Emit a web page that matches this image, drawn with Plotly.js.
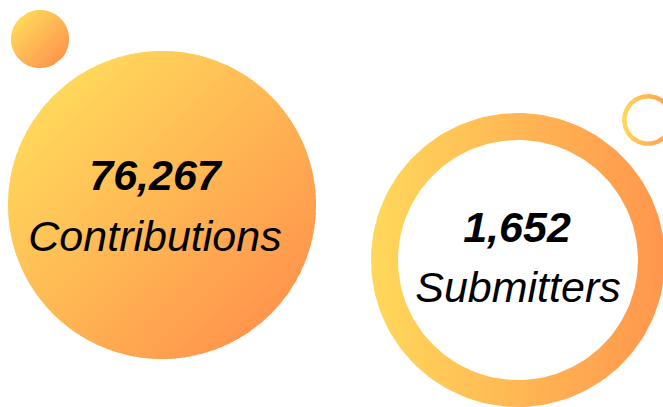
<!DOCTYPE html>
<html>
<head>
<meta charset="utf-8">
<script src="https://cdn.plot.ly/plotly-3.0.1.min.js"></script>
<style>html,body{margin:0;padding:0;background:#fff;}#chart{width:663px;height:407px;}</style>
</head>
<body>
<div id="chart"></div>
<script>
// ---- data ----
var metricValues = [76267, 1652];
var metricLabels = ['Contributions', 'Submitters'];

// ---- decoration geometry (pixel space) ----
var W = 663, H = 407;
var yellow = [255, 216, 91], orange = [255, 150, 77];

function mix(t) {
  var c = yellow.map(function (v, i) { return Math.round(v + (orange[i] - v) * t); });
  return 'rgb(' + c.join(',') + ')';
}

var traces = [];

// Diagonal-gradient filled disc made of thin bands
function gradDisc(cx, cy, R, n) {
  var s = Math.SQRT1_2;
  for (var k = 0; k < n; k++) {
    var u0 = -R + 2 * R * k / n;
    var u1 = Math.min(R, -R + 2 * R * (k + 1) / n + 1.2);
    var xs = [], ys = [], steps = 6, j, u, v;
    for (j = 0; j <= steps; j++) {
      u = u0 + (u1 - u0) * j / steps;
      v = -Math.sqrt(Math.max(0, R * R - u * u));
      xs.push(cx + u * s - v * s); ys.push(cy + u * s + v * s);
    }
    for (j = steps; j >= 0; j--) {
      u = u0 + (u1 - u0) * j / steps;
      v = Math.sqrt(Math.max(0, R * R - u * u));
      xs.push(cx + u * s - v * s); ys.push(cy + u * s + v * s);
    }
    var col = mix((k + 0.5) / n);
    traces.push({
      type: 'scatter', mode: 'lines', x: xs, y: ys, fill: 'toself',
      fillcolor: col, line: { width: 0, color: col }, hoverinfo: 'skip', showlegend: false
    });
  }
}

// Horizontal-gradient annulus
function gradRing(cx, cy, Ro, Ri) {
  var xs = [], ys = [], N = 180, i, a;
  for (i = 0; i <= N; i++) { a = 2 * Math.PI * i / N; xs.push(cx + Ro * Math.cos(a)); ys.push(cy + Ro * Math.sin(a)); }
  for (i = N; i >= 0; i--) { a = 2 * Math.PI * i / N; xs.push(cx + Ri * Math.cos(a)); ys.push(cy + Ri * Math.sin(a)); }
  traces.push({
    type: 'scatter', mode: 'lines', x: xs, y: ys, fill: 'toself',
    fillgradient: { type: 'horizontal', colorscale: [[0, mix(0)], [1, mix(1)]] },
    line: { width: 0 }, hoverinfo: 'skip', showlegend: false
  });
}

gradDisc(40, 39, 29, 30);
gradDisc(162, 205, 154, 100);
gradRing(518, 260, 147, 120);
gradRing(648, 120, 26, 21.5);

// ---- text ----
function fmt(v) { return v.toLocaleString('en-US'); }
var fontFam = '"Liberation Sans", Arial, sans-serif';
traces.push({
  type: 'scatter', mode: 'text',
  x: [155, 517], y: [179, 231],
  text: metricValues.map(function (v) { return '<b><i>' + fmt(v) + '</i></b>'; }),
  textposition: 'middle center',
  textfont: { family: fontFam, size: 43, color: '#000' },
  hoverinfo: 'skip', showlegend: false
});
traces.push({
  type: 'scatter', mode: 'text',
  x: [155, 518], y: [240, 291],
  text: metricLabels.map(function (l) { return '<i>' + l + '</i>'; }),
  textposition: 'middle center',
  textfont: { family: fontFam, size: 43, color: '#000' },
  hoverinfo: 'skip', showlegend: false
});

var layout = {
  width: W, height: H,
  margin: { l: 0, r: 0, t: 0, b: 0, pad: 0 },
  paper_bgcolor: '#fff', plot_bgcolor: '#fff',
  xaxis: { range: [0, W], visible: false, fixedrange: true },
  yaxis: { range: [H, 0], visible: false, fixedrange: true },
  showlegend: false
};

Plotly.newPlot('chart', traces, layout, { displayModeBar: false, staticPlot: true });
</script>
</body>
</html>
